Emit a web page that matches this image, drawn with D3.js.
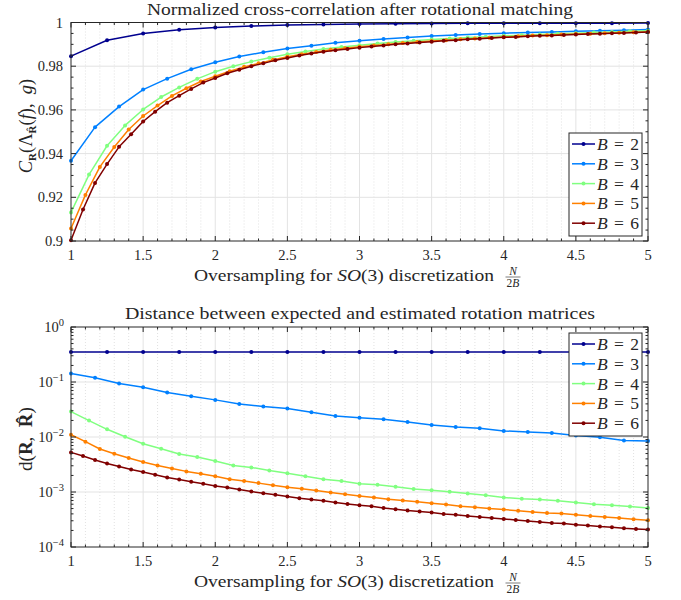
<!DOCTYPE html>
<html><head><meta charset="utf-8">
<script src="https://cdn.jsdelivr.net/npm/d3@7"></script>
<style>
body{margin:0;background:#fff}
text{font-family:"Liberation Serif","Times New Roman",serif;fill:#262626}
</style>
</head><body><svg id="c" width="681" height="600"></svg>
<script>
// ---------------- data ----------------
const bandwidths = [2, 3, 4, 5, 6];
const legendNames = ["B", "B", "B", "B", "B"];
const colors = ["#00008f", "#0080ff", "#80ff80", "#ff8000", "#800000"];

const corrB2 = [0.9846,0.9919,0.9950,0.9967,0.9977,0.9984,0.9988,0.9991,0.9993,0.9994,0.9995,0.9996,0.9996,0.9997,0.9997,0.9997,0.9998];
const corrB3 = [0.9367,0.9521,0.9615,0.9693,0.9743,0.9786,0.9818,0.9844,0.9864,0.9881,0.9894,0.9907,0.9917,0.9925,0.9931,0.9938,0.9943,0.9947,0.9951,0.9954,0.9957,0.9960,0.9962,0.9965,0.9968];
const corrB4 = [0.9131,0.9304,0.9436,0.9529,0.9602,0.9659,0.9703,0.9742,0.9775,0.9800,0.9821,0.9839,0.9855,0.9867,0.9879,0.9888,0.9896,0.9904,0.9911,0.9917,0.9922,0.9927,0.9931,0.9935,0.9939,0.9942,0.9945,0.9948,0.9951,0.9954,0.9957,0.9960,0.9962];
const corrB5 = [0.9057,0.9211,0.9339,0.9430,0.9510,0.9572,0.9620,0.9664,0.9699,0.9730,0.9754,0.9777,0.9797,0.9813,0.9829,0.9843,0.9855,0.9865,0.9875,0.9882,0.9889,0.9895,0.9901,0.9906,0.9911,0.9915,0.9919,0.9923,0.9927,0.9930,0.9934,0.9937,0.9940,0.9942,0.9945,0.9947,0.9949,0.9951,0.9953,0.9955,0.9957];
const corrB6 = [0.9003,0.9144,0.9266,0.9352,0.9431,0.9489,0.9547,0.9592,0.9633,0.9665,0.9696,0.9725,0.9746,
  0.9768,0.9784,0.9800,0.9813,0.9827,0.9838,0.9849,0.9858,0.9866,0.9873,0.9879,0.9885,
  0.9890,0.9895,0.9900,0.9904,0.9908,0.9912,0.9916,0.9919,0.9923,0.9926,0.9929,0.9932,
  0.9934,0.9937,0.9939,0.9941,0.9943,0.9945,0.9947,0.9949,0.9951,0.9952,0.9954,0.9956];

const distB2 = [0.35,0.35,0.35,0.35,0.35,0.35,0.35,0.35,0.35,0.35,0.35,0.35,0.35,0.35,0.35,0.35,0.35];
const distB3 = [0.143,0.119,0.094,0.0805,0.0644,0.0552,0.0473,0.040,0.0357,0.0329,0.0282,0.0242,0.0225,0.021,0.0188,0.0166,0.0152,0.0144,0.0129,0.0123,0.0118,0.0107,0.0099,0.0086,0.0085];
const distB4 = [0.029,0.0199,0.0138,0.0101,0.00755,0.00612,0.0049,0.00432,0.00365,0.00304,0.0028,0.00247,0.0022,0.00194,0.00171,0.00158,0.00141,0.00135,0.00124,0.00113,0.00108,0.00101,0.00094,0.000875,0.000794,0.00075,0.00073,0.00069,0.000644,0.0006,0.000575,0.000544,0.000514];
const distB5 = [0.011,0.00822,0.00604,0.00496,0.00414,0.0035,0.00304,0.00268,0.00237,0.00214,0.00194,0.00171,0.00158,0.00145,0.00133,0.00122,0.00114,0.00106,0.00098,0.00091,0.00085,0.000794,0.00074,0.0007,0.000662,0.000626,0.000592,0.000552,0.000529,0.0005,0.00048,0.000454,0.000435,0.000417,0.000406,0.000384,0.000368,0.000352,0.000338,0.00032,0.000306];
const distB6 = [0.00525,0.0045,0.00381,0.00331,0.00292,0.00257,0.0023,0.00206,0.00184,0.00169,0.00153,0.00141,0.00129,0.00121,0.00111,0.00102,0.000953,0.000888,0.000828,0.000772,0.00073,0.00069,0.000644,0.000608,0.000575,0.000552,0.000514,0.000486,0.00046,0.000441,0.000423,0.0004,0.000384,0.000368,0.000352,0.000338,0.000324,0.000311,0.000298,0.000286,0.000274,0.000267,0.000255,0.000245,0.000235,0.000229,0.000219,0.000213,0.000207];

const xTicks = [1, 1.5, 2, 2.5, 3, 3.5, 4, 4.5, 5];
const xTickLabels = ["1", "1.5", "2", "2.5", "3", "3.5", "4", "4.5", "5"];
const corrTicks = [0.9, 0.92, 0.94, 0.96, 0.98, 1];
const corrTickLabels = ["0.9", "0.92", "0.94", "0.96", "0.98", "1"];
const distTicks = [1e-4, 1e-3, 1e-2, 1e-1, 1];
const distTickExps = ["\u22124", "\u22123", "\u22122", "\u22121", "0"];

const titles = ["Normalized cross-correlation after rotational matching",
                "Distance between expected and estimated rotation matrices"];

// x positions are N/(2B), N = 2B .. 10B
function xsFor(B, n) { return d3.range(n).map(i => (2 * B + i) / (2 * B)); }

const corrSeries = [corrB2, corrB3, corrB4, corrB5, corrB6];
const distSeries = [distB2, distB3, distB4, distB5, distB6];

// ---------------- drawing ----------------
const svg = d3.select("#c");
const AX = "#262626";
const L = 71, R = 648;

function panel(cfg) {
  const g = svg.append("g");
  const x = d3.scaleLinear([1, 5], [L, R]);
  const y = cfg.y;
  const [yb, yt] = y.range();

  const minorX = d3.range(11, 50).map(v => v / 10).filter(v => Math.abs(v * 2 - Math.round(v * 2)) > 1e-6);
  g.selectAll(".mgx").data(minorX).join("line")
    .attr("x1", d => x(d)).attr("x2", d => x(d)).attr("y1", yt).attr("y2", yb)
    .attr("stroke", "#d9d9d9").attr("stroke-width", 0.8).attr("stroke-dasharray", "1,2");
  g.selectAll(".gx").data(xTicks.slice(1, -1)).join("line")
    .attr("x1", d => x(d)).attr("x2", d => x(d)).attr("y1", yt).attr("y2", yb)
    .attr("stroke", "#e3e3e3").attr("stroke-width", 1);
  g.selectAll(".gy").data(cfg.yTicks.slice(1, -1)).join("line")
    .attr("x1", L).attr("x2", R).attr("y1", d => y(d)).attr("y2", d => y(d))
    .attr("stroke", "#e3e3e3").attr("stroke-width", 1);

  const line = d3.line().x(d => x(d[0])).y(d => y(d[1]));
  cfg.series.forEach((vals, i) => {
    const pts = xsFor(bandwidths[i], vals.length).map((xv, k) => [xv, vals[k]]);
    g.append("path").datum(pts).attr("d", line).attr("fill", "none")
      .attr("stroke", colors[i]).attr("stroke-width", 1.5).attr("stroke-linejoin", "round");
    g.selectAll(null).data(pts).join("circle")
      .attr("cx", d => x(d[0])).attr("cy", d => y(d[1])).attr("r", 2).attr("fill", colors[i]);
  });

  g.append("rect").attr("x", L).attr("y", yt).attr("width", R - L).attr("height", yb - yt)
    .attr("fill", "none").attr("stroke", AX).attr("stroke-width", 1);

  const tick = (x1, y1, x2, y2) => g.append("line").attr("x1", x1).attr("y1", y1).attr("x2", x2).attr("y2", y2)
      .attr("stroke", AX).attr("stroke-width", 1);
  xTicks.forEach(v => { tick(x(v), yb, x(v), yb - 5); tick(x(v), yt, x(v), yt + 5); });
  minorX.forEach(v => { tick(x(v), yb, x(v), yb - 2.5); tick(x(v), yt, x(v), yt + 2.5); });
  cfg.yTicks.forEach(v => { tick(L, y(v), L + 5, y(v)); tick(R, y(v), R - 5, y(v)); });
  cfg.yMinor.forEach(v => { tick(L, y(v), L + 2.5, y(v)); tick(R, y(v), R - 2.5, y(v)); });

  g.selectAll(".xl").data(xTicks).join("text")
    .attr("x", d => x(d)).attr("y", yb + 19).attr("text-anchor", "middle")
    .attr("font-size", 14.5).text((d, i) => xTickLabels[i]);

  cfg.yLabels(g, y);

  g.append("text").attr("x", (L + R) / 2 + 0.5).attr("y", yt - 8).attr("text-anchor", "middle")
    .attr("font-size", 17.5).attr("textLength", cfg.titleWidth).attr("lengthAdjust", "spacingAndGlyphs")
    .text(cfg.title);

  const xl = g.append("text").attr("x", 194).attr("y", yb + 40).attr("font-size", 17.5)
    .attr("textLength", 300).attr("lengthAdjust", "spacingAndGlyphs");
  xl.append("tspan").text("Oversampling for ");
  xl.append("tspan").attr("font-style", "italic").text("SO");
  xl.append("tspan").text("(3) discretization");
  const fx = 513, fy = yb + 36;
  g.append("text").attr("x", fx).attr("y", fy - 2.5).attr("text-anchor", "middle")
    .attr("font-size", 11.5).attr("font-style", "italic").text("N");
  g.append("line").attr("x1", fx - 7.5).attr("x2", fx + 7.5).attr("y1", fy).attr("y2", fy)
    .attr("stroke", AX).attr("stroke-width", 0.6);
  const fb = g.append("text").attr("x", fx).attr("y", fy + 9.5).attr("text-anchor", "middle").attr("font-size", 11.5);
  fb.append("tspan").text("2");
  fb.append("tspan").attr("font-style", "italic").text("B");

  cfg.yTitle(g);

  const lx = 569, lw = 73, ly = cfg.legendY, lh = 103;
  g.append("rect").attr("x", lx).attr("y", ly).attr("width", lw).attr("height", lh)
    .attr("fill", "#fff").attr("stroke", AX).attr("stroke-width", 1);
  bandwidths.forEach((b, i) => {
    const yy = ly + 11 + i * 19.8;
    g.append("line").attr("x1", lx + 3).attr("x2", lx + 26).attr("y1", yy).attr("y2", yy)
      .attr("stroke", colors[i]).attr("stroke-width", 1.5);
    g.append("circle").attr("cx", lx + 14.5).attr("cy", yy).attr("r", 2).attr("fill", colors[i]);
    const t = g.append("text").attr("x", lx + 28).attr("y", yy + 6).attr("font-size", 17.5)
      .attr("textLength", 42).attr("lengthAdjust", "spacing");
    t.append("tspan").attr("font-style", "italic").text(legendNames[i]);
    t.append("tspan").text(" = " + b);
  });
}

// top panel
const yTop = d3.scaleLinear([0.9, 1], [241, 22.5]);
panel({
  y: yTop, yTicks: corrTicks, titleWidth: 426,
  yMinor: d3.range(0, 21).map(i => 0.9 + i * 0.005).filter((v, i) => i % 4 !== 0),
  series: corrSeries, title: titles[0], legendY: 133,
  yLabels: (g, y) => {
    g.selectAll(".yl").data(corrTicks).join("text")
      .attr("x", 63).attr("y", d => y(d) + 5).attr("text-anchor", "end")
      .attr("font-size", 14.5).text((d, i) => corrTickLabels[i]);
  },
  yTitle: g => {
    const t = g.append("text").attr("transform", "translate(32,126) rotate(-90)")
      .attr("text-anchor", "middle").attr("font-size", 18.5);
    t.append("tspan").attr("font-style", "italic").text("C");
    t.append("tspan").attr("font-size", 11).attr("font-weight", "bold").attr("dy", 4).text("R");
    t.append("tspan").attr("dy", -4).text("(\u039B");
    t.append("tspan").attr("font-size", 11).attr("font-weight", "bold").attr("dy", 4).text("R\u0302");
    t.append("tspan").attr("dy", -4).text("(");
    t.append("tspan").attr("font-style", "italic").text("f");
    t.append("tspan").text("),\u2002");
    t.append("tspan").attr("font-style", "italic").text("g");
    t.append("tspan").text(")");
  }
});

// bottom panel
const yBot = d3.scaleLog([1e-4, 1], [547, 327]);
const logMinor = [];
[1e-4, 1e-3, 1e-2, 1e-1].forEach(d => { for (let k = 2; k <= 9; k++) logMinor.push(d * k); });
panel({
  y: yBot, yTicks: distTicks, yMinor: logMinor, titleWidth: 470,
  series: distSeries, title: titles[1], legendY: 333,
  yLabels: (g, y) => {
    distTicks.forEach((v, i) => {
      const t = g.append("text").attr("x", 64).attr("y", y(v) + 5).attr("text-anchor", "end").attr("font-size", 14.5);
      t.append("tspan").text("10");
      t.append("tspan").attr("font-size", 10.5).attr("dy", -6).text(distTickExps[i]);
    });
  },
  yTitle: g => {
    const t = g.append("text").attr("transform", "translate(32,439) rotate(-90)")
      .attr("text-anchor", "middle").attr("font-size", 19);
    t.append("tspan").text("d(");
    t.append("tspan").attr("font-weight", "bold").text("R");
    t.append("tspan").text(",\u2002");
    t.append("tspan").attr("font-weight", "bold").text("R\u0302");
    t.append("tspan").text(")");
  }
});
</script>
</body></html>
